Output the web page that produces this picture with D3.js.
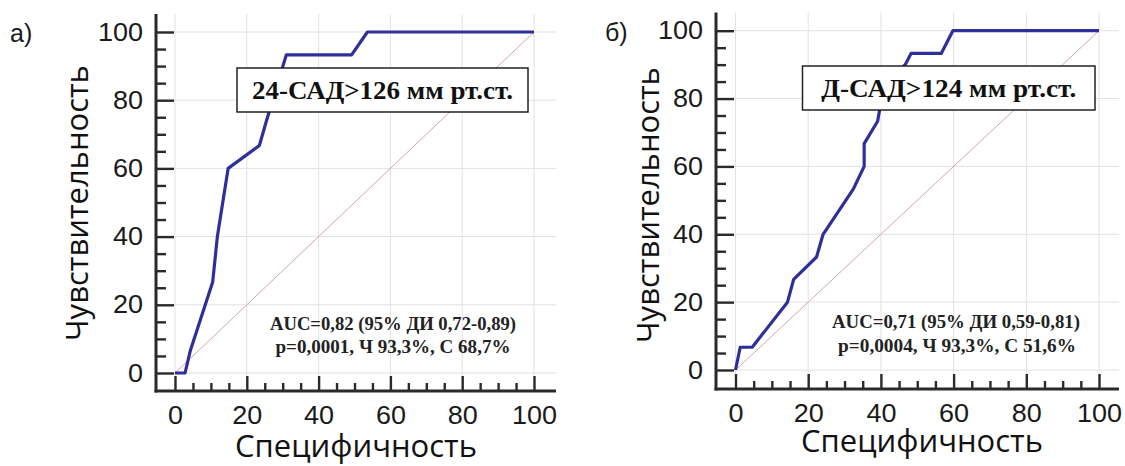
<!DOCTYPE html>
<html><head><meta charset="utf-8">
<script src="https://cdn.jsdelivr.net/npm/d3@7"></script>
<style>
html,body{margin:0;padding:0;background:#fff;}
svg{display:block;}
</style></head>
<body>
<svg id="chart" width="1125" height="466"></svg>
<script>
// ---- data ----
const majorTicks = [0, 20, 40, 60, 80, 100];
const minorTicks = [5,10,15,25,30,35,45,50,55,65,70,75,85,90,95];
const diagX = [0, 100];
const diagY = [0, 100];

const panelLabels = ["а)", "б)"];
const boxTitles = ["24-САД>126 мм рт.ст.", "Д-САД>124 мм рт.ст."];
const aucLines = ["AUC=0,82 (95% ДИ 0,72-0,89)", "AUC=0,71 (95% ДИ 0,59-0,81)"];
const statLines = ["p=0,0001, Ч 93,3%, С 68,7%", "p=0,0004, Ч 93,3%, С 51,6%"];
const xTitle = "Специфичность";
const yTitle = "Чувствительность";

const rocA_x = [0, 2.8, 4.3, 10.5, 11.8, 14.8, 23.5, 25.3, 31, 49.2, 53.6, 100];
const rocA_y = [0, 0, 6.7, 26.7, 40, 60, 66.7, 73.3, 93.3, 93.3, 100, 100];
const rocB_x = [0, 1.3, 4.6, 14.3, 16, 22.3, 24.1, 32.4, 35.4, 35.4, 39.1, 40.2, 43.2, 46.7, 48.3, 56.6, 59.8, 100];
const rocB_y = [0, 6.7, 6.7, 20, 26.7, 33.3, 40, 53.3, 60, 66.7, 73.3, 80, 86.7, 90, 93.3, 93.3, 100, 100];

// ---- layout ----
const panels = [
  { xr:[175,534], yr:[373,32], axX:156, axY:391, axTop:14, axRight:556,
    lab:[10,42], box:[237,68,528,112], boxBase:99, boxTL:261,
    auc:[393,330,246], stat:[393,353,235], ytl:[88,203], xtl:[356,457], rx:rocA_x, ry:rocA_y },
  { xr:[735.5,1099], yr:[370,30.7], axX:716, axY:389, axTop:12.5, axRight:1119,
    lab:[605,41], box:[802.5,66,1095,110], boxBase:97, boxTL:255,
    auc:[956,328,248], stat:[957,352,238], ytl:[659,205], xtl:[922,452], rx:rocB_x, ry:rocB_y }
];

const svg = d3.select("#chart");
const tickFont = "'Liberation Sans', Arial, sans-serif";
const titleFont = "'Open Sans', sans-serif";
const serif = "'Liberation Serif', 'Times New Roman', serif";

panels.forEach((p, i) => {
  const x = d3.scaleLinear().domain([0,100]).range(p.xr);
  const y = d3.scaleLinear().domain([0,100]).range(p.yr);
  const g = svg.append("g");

  // gridlines
  g.selectAll(".vg").data(majorTicks).join("line")
    .attr("x1", d => x(d)).attr("x2", d => x(d))
    .attr("y1", p.axTop).attr("y2", p.axY)
    .attr("stroke", "#e2e2e2").attr("stroke-width", 1);
  g.selectAll(".hg").data(majorTicks).join("line")
    .attr("x1", p.axX).attr("x2", p.axRight)
    .attr("y1", d => y(d)).attr("y2", d => y(d))
    .attr("stroke", "#e2e2e2").attr("stroke-width", 1);

  // diagonal reference
  g.append("line")
    .attr("x1", x(diagX[0])).attr("y1", y(diagY[0]))
    .attr("x2", x(diagX[1])).attr("y2", y(diagY[1]))
    .attr("stroke", "#d9a4aa").attr("stroke-width", 1);

  // ROC curve
  const pts = p.rx.map((v, k) => [v, p.ry[k]]);
  g.append("path").datum(pts)
    .attr("d", d3.line().x(d => x(d[0])).y(d => y(d[1])))
    .attr("fill", "none").attr("stroke", "#2f2f9c").attr("stroke-width", 3.2)
    .attr("stroke-linejoin", "round");

  // y axis (ticks point inward, labels left)
  const yAxis = g.append("g").attr("transform", `translate(${p.axX},0)`)
    .call(d3.axisLeft(y).tickValues(majorTicks).tickSize(-18).tickPadding(12));
  const yMinor = g.append("g").attr("transform", `translate(${p.axX},0)`)
    .call(d3.axisLeft(y).tickValues(minorTicks).tickSize(-10).tickFormat(""));
  // x axis (ticks point up, labels below)
  const xAxis = g.append("g").attr("transform", `translate(0,${p.axY})`)
    .call(d3.axisBottom(x).tickValues(majorTicks).tickSize(-15).tickPadding(15));
  const xMinor = g.append("g").attr("transform", `translate(0,${p.axY})`)
    .call(d3.axisBottom(x).tickValues(minorTicks).tickSize(-8).tickFormat(""));

  [yAxis, yMinor, xAxis, xMinor].forEach(a => {
    a.select(".domain").remove();
    a.selectAll(".tick line").attr("stroke", "#2a2a2a").attr("stroke-width", 2.4);
    a.selectAll(".tick text").attr("font-family", tickFont).attr("font-size", 25)
      .attr("fill", "#1a1a1a");
  });
  yAxis.selectAll(".tick text").attr("transform", "scale(1.08,1)");
  xAxis.selectAll(".tick text").attr("transform", "scale(1.08,1)");

  // axis lines
  g.append("line").attr("x1", p.axX).attr("x2", p.axX)
    .attr("y1", p.axTop).attr("y2", p.axY + 1.5)
    .attr("stroke", "#2a2a2a").attr("stroke-width", 3);
  g.append("line").attr("x1", p.axX - 1.5).attr("x2", p.axRight)
    .attr("y1", p.axY).attr("y2", p.axY)
    .attr("stroke", "#2a2a2a").attr("stroke-width", 3);

  // annotation box
  const [bx0, by0, bx1, by1] = p.box;
  g.append("rect").attr("x", bx0).attr("y", by0)
    .attr("width", bx1 - bx0).attr("height", by1 - by0)
    .attr("fill", "#fff").attr("stroke", "#222").attr("stroke-width", 1.5);
  g.append("text").attr("x", (bx0 + bx1) / 2).attr("y", p.boxBase)
    .attr("text-anchor", "middle").attr("font-family", serif).attr("font-weight", "bold")
    .attr("font-size", 25).attr("fill", "#111")
    .attr("textLength", p.boxTL).attr("lengthAdjust", "spacingAndGlyphs")
    .text(boxTitles[i]);

  // AUC text
  g.append("text").attr("x", p.auc[0]).attr("y", p.auc[1])
    .attr("text-anchor", "middle").attr("font-family", serif).attr("font-weight", "bold")
    .attr("font-size", 18).attr("fill", "#222")
    .attr("textLength", p.auc[2]).attr("lengthAdjust", "spacingAndGlyphs")
    .text(aucLines[i]);
  g.append("text").attr("x", p.stat[0]).attr("y", p.stat[1])
    .attr("text-anchor", "middle").attr("font-family", serif).attr("font-weight", "bold")
    .attr("font-size", 18).attr("fill", "#222")
    .attr("textLength", p.stat[2]).attr("lengthAdjust", "spacingAndGlyphs")
    .text(statLines[i]);

  // axis titles
  g.append("text").attr("transform", `translate(${p.ytl[0]},${p.ytl[1]}) rotate(-90)`)
    .attr("text-anchor", "middle").attr("font-family", titleFont)
    .attr("font-size", 31).attr("fill", "#111").text(yTitle);
  g.append("text").attr("x", p.xtl[0]).attr("y", p.xtl[1])
    .attr("text-anchor", "middle").attr("font-family", titleFont)
    .attr("font-size", 31).attr("fill", "#111").text(xTitle);

  // panel label
  g.append("text").attr("x", p.lab[0]).attr("y", p.lab[1])
    .attr("font-family", tickFont).attr("font-size", 25).attr("fill", "#1a1a1a")
    .text(panelLabels[i]);
});
</script>
</body></html>
